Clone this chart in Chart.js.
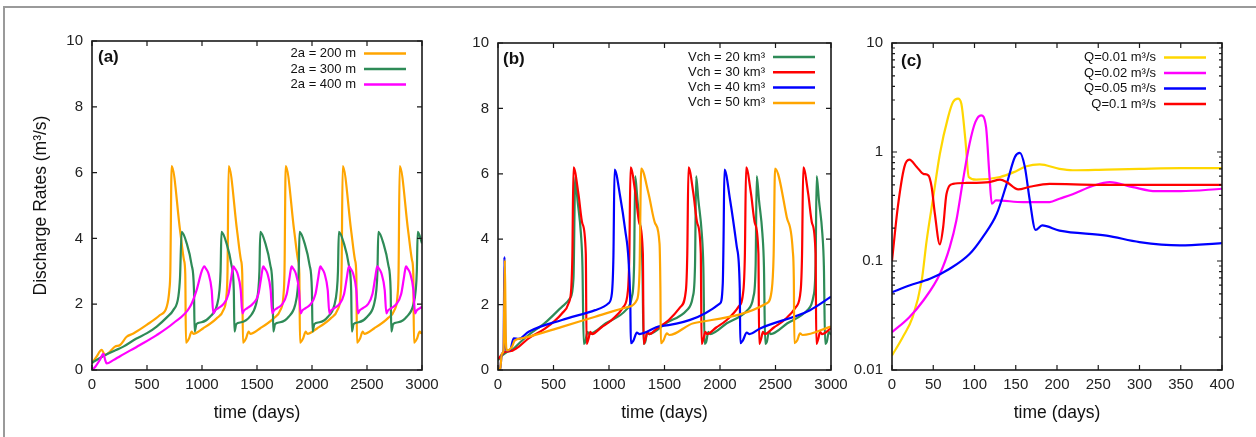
<!DOCTYPE html>
<html>
<head>
<meta charset="utf-8">
<script src="https://cdn.jsdelivr.net/npm/chart.js@4.4.1/dist/chart.umd.min.js"></script>
<style>
  html, body { margin: 0; padding: 0; background: #fff; }
  body { width: 1256px; height: 437px; position: relative; overflow: hidden; }
  #frame { position: absolute; left: 3px; top: 6px; right: 0; bottom: 0; border-top: 2px solid #9a9a9a; border-left: 2px solid #9a9a9a; }
  canvas { position: absolute; top: 8px; }
</style>
</head>
<body>
<div id="frame"></div>
<canvas id="panelA" width="440" height="420" style="left:8px"></canvas>
<canvas id="panelB" width="420" height="420" style="left:440px"></canvas>
<canvas id="panelC" width="416" height="420" style="left:836px"></canvas>
<script>
// ---- panel (a): channel width ----
const aLabels = ["2a = 200 m", "2a = 300 m", "2a = 400 m"];
const aDays200 = [0, 40, 88, 118, 164, 209, 255, 315, 376, 497, 618, 679, 703, 712, 724,
  800, 836, 848, 854, 882, 906, 920, 1012, 1133, 1194, 1222, 1232, 1242,
  1318, 1354, 1366, 1372, 1400, 1424, 1438, 1530, 1651, 1712, 1740, 1750, 1761,
  1837, 1873, 1885, 1891, 1919, 1943, 1957, 2049, 2170, 2231, 2259, 2269, 2279,
  2355, 2391, 2403, 2409, 2437, 2461, 2475, 2567, 2688, 2749, 2777, 2787, 2797,
  2873, 2909, 2921, 2927, 2955, 2979, 2993, 3000];
const aRate200 = [0.2, 0.4, 0.61, 0.46, 0.56, 0.71, 0.76, 1.01, 1.11, 1.37, 1.67, 1.92, 2.43, 3.0, 6.2,
  4.26, 3.34, 2.9, 0.83, 0.96, 1.17, 1.1, 1.27, 1.57, 1.82, 2.25, 3.0, 6.2,
  4.26, 3.34, 2.9, 0.83, 0.96, 1.17, 1.1, 1.27, 1.57, 1.82, 2.25, 3.0, 6.2,
  4.26, 3.34, 2.9, 0.83, 0.96, 1.17, 1.1, 1.27, 1.57, 1.82, 2.25, 3.0, 6.2,
  4.26, 3.34, 2.9, 0.83, 0.96, 1.17, 1.1, 1.27, 1.57, 1.82, 2.25, 3.0, 6.2,
  4.26, 3.34, 2.9, 0.83, 0.96, 1.17, 1.12, 1.15];
const aDays300 = [0, 100, 200, 285, 400, 500, 588, 680, 739, 785, 800, 815,
  861, 906, 927, 933, 950, 995, 1073, 1137, 1159, 1169, 1177,
  1223, 1268, 1289, 1295, 1312, 1357, 1435, 1490, 1512, 1522, 1530,
  1576, 1621, 1642, 1648, 1665, 1710, 1788, 1847, 1869, 1879, 1887,
  1933, 1978, 1999, 2005, 2022, 2067, 2145, 2204, 2226, 2236, 2244,
  2290, 2335, 2356, 2362, 2379, 2424, 2502, 2563, 2585, 2595, 2603,
  2649, 2694, 2715, 2721, 2738, 2783, 2861, 2921, 2943, 2953, 2961,
  3000];
const aRate300 = [0.22, 0.42, 0.58, 0.71, 0.95, 1.12, 1.32, 1.6, 1.82, 2.23, 2.8, 4.2,
  3.85, 3.19, 2.43, 1.17, 1.4, 1.45, 1.62, 1.98, 2.43, 3.0, 4.2,
  3.85, 3.19, 2.43, 1.17, 1.4, 1.45, 1.62, 1.98, 2.43, 3.0, 4.2,
  3.85, 3.19, 2.43, 1.17, 1.4, 1.45, 1.62, 1.98, 2.43, 3.0, 4.2,
  3.85, 3.19, 2.43, 1.17, 1.4, 1.45, 1.62, 1.98, 2.43, 3.0, 4.2,
  3.85, 3.19, 2.43, 1.17, 1.4, 1.45, 1.62, 1.98, 2.43, 3.0, 4.2,
  3.85, 3.19, 2.43, 1.17, 1.4, 1.45, 1.62, 1.98, 2.43, 3.0, 4.2,
  3.85];
const aDays400 = [0, 30, 70, 103, 120, 133, 194, 255, 436, 588, 739, 891, 951, 997, 1021,
  1036, 1058, 1088, 1103, 1116, 1148, 1194, 1240, 1263, 1277, 1285,
  1300, 1322, 1352, 1367, 1380, 1412, 1458, 1512, 1535, 1549, 1557,
  1572, 1594, 1624, 1639, 1652, 1684, 1730, 1770, 1793, 1807, 1815,
  1830, 1852, 1882, 1897, 1910, 1942, 1988, 2031, 2054, 2068, 2076,
  2091, 2113, 2143, 2158, 2171, 2203, 2249, 2291, 2314, 2328, 2336,
  2351, 2373, 2403, 2418, 2431, 2463, 2509, 2549, 2572, 2586, 2594,
  2609, 2631, 2661, 2676, 2689, 2721, 2767, 2810, 2833, 2847, 2855,
  2870, 2892, 2922, 2937, 2950, 2982, 3000];
const aRate400 = [0.0, 0.1, 0.3, 0.49, 0.3, 0.2, 0.3, 0.42, 0.76, 1.06, 1.42, 1.92, 2.43, 3.0, 3.15,
  3.08, 2.94, 2.43, 1.72, 1.8, 1.88, 2.0, 2.3, 2.75, 3.05, 3.15,
  3.08, 2.94, 2.43, 1.72, 1.8, 1.88, 2.0, 2.3, 2.75, 3.05, 3.15,
  3.08, 2.94, 2.43, 1.72, 1.8, 1.88, 2.0, 2.3, 2.75, 3.05, 3.15,
  3.08, 2.94, 2.43, 1.72, 1.8, 1.88, 2.0, 2.3, 2.75, 3.05, 3.15,
  3.08, 2.94, 2.43, 1.72, 1.8, 1.88, 2.0, 2.3, 2.75, 3.05, 3.15,
  3.08, 2.94, 2.43, 1.72, 1.8, 1.88, 2.0, 2.3, 2.75, 3.05, 3.15,
  3.08, 2.94, 2.43, 1.72, 1.8, 1.88, 2.0, 2.3, 2.75, 3.05, 3.15,
  3.08, 2.94, 2.43, 1.72, 1.8, 1.88, 1.92];

// ---- panel (b): chamber volume ----
const bLabels = ["Vch = 20 km³", "Vch = 30 km³", "Vch = 40 km³", "Vch = 50 km³"];
const bDays20 = [0, 40, 80, 130, 200, 276, 426, 576, 650, 680, 696,
  716, 747, 761, 772, 786, 806, 821, 972, 1152, 1206, 1226, 1236,
  1256, 1287, 1301, 1312, 1326, 1346, 1361, 1512, 1701, 1755, 1775, 1785,
  1805, 1836, 1850, 1861, 1875, 1895, 1910, 2061, 2247, 2301, 2321, 2331,
  2351, 2382, 2396, 2407, 2421, 2441, 2456, 2607, 2787, 2841, 2861, 2871,
  2891, 2922, 2936, 2947, 2961, 2981, 2995, 3000];
const bRate20 = [0.3, 0.45, 0.55, 0.62, 0.85, 1.07, 1.45, 1.93, 2.2, 2.8, 5.9,
  5.2, 4.17, 3.16, 0.8, 0.85, 1.17, 1.1, 1.43, 1.83, 2.24, 3.2, 5.93,
  5.2, 4.17, 3.16, 0.8, 0.85, 1.17, 1.1, 1.43, 1.83, 2.24, 3.2, 5.93,
  5.2, 4.17, 3.16, 0.8, 0.85, 1.17, 1.1, 1.43, 1.83, 2.24, 3.2, 5.93,
  5.2, 4.17, 3.16, 0.8, 0.85, 1.17, 1.1, 1.43, 1.83, 2.24, 3.2, 5.93,
  5.2, 4.17, 3.16, 0.8, 0.85, 1.17, 1.1, 1.1];
const bDays30 = [0, 30, 60, 120, 186, 276, 426, 576, 636, 660, 670, 680,
  724, 760, 791, 798, 815, 832, 848, 930, 1025, 1130, 1171, 1183, 1194,
  1238, 1274, 1305, 1312, 1329, 1346, 1362, 1444, 1539, 1644, 1693, 1705, 1716,
  1760, 1796, 1827, 1834, 1851, 1868, 1884, 1966, 2061, 2166, 2211, 2224, 2235,
  2279, 2315, 2346, 2353, 2370, 2387, 2403, 2485, 2580, 2685, 2727, 2739, 2750,
  2794, 2830, 2861, 2868, 2885, 2902, 2918, 3000];
const bRate30 = [0.33, 0.45, 0.55, 0.58, 0.71, 0.97, 1.27, 1.73, 2.04, 2.5, 3.5, 6.2,
  5.4, 4.48, 3.56, 0.8, 0.95, 1.17, 1.1, 1.3, 1.53, 1.93, 2.44, 3.5, 6.2,
  5.4, 4.48, 3.56, 0.8, 0.95, 1.17, 1.1, 1.3, 1.53, 1.93, 2.44, 3.5, 6.2,
  5.4, 4.48, 3.56, 0.8, 0.95, 1.17, 1.1, 1.3, 1.53, 1.93, 2.44, 3.5, 6.2,
  5.4, 4.48, 3.56, 0.8, 0.95, 1.17, 1.1, 1.3, 1.53, 1.93, 2.44, 3.5, 6.2,
  5.4, 4.48, 3.56, 0.8, 0.95, 1.17, 1.1, 1.28];
const bDays40 = [0, 20, 35, 50, 58, 66, 78, 110, 141, 186, 276, 576, 876, 996, 1026, 1040, 1050,
  1101, 1146, 1176, 1192, 1197, 1220, 1251, 1275, 1461, 2001, 2025, 2032, 2040,
  2091, 2151, 2178, 2183, 2205, 2241, 2265, 2361, 2811, 3000];
const bRate40 = [0.0, 0.05, 0.5, 0.6, 3.46, 1.0, 0.6, 0.62, 0.97, 0.95, 1.17, 1.53, 1.83, 2.04, 2.34, 3.5, 6.13,
  5.3, 4.28, 3.36, 2.0, 0.82, 0.9, 1.14, 1.1, 1.34, 2.04, 2.65, 4.0, 6.13,
  5.2, 3.77, 2.5, 0.82, 0.9, 1.14, 1.1, 1.27, 1.83, 2.24];
const bDays50 = [0, 20, 35, 50, 62, 70, 80, 126, 150, 216, 576, 876, 1176, 1251, 1275, 1290,
  1356, 1416, 1455, 1463, 1467, 1490, 1521, 1545, 1761, 2421, 2466, 2483, 2496,
  2601, 2655, 2665, 2670, 2695, 2721, 2745, 2991, 3000];
const bRate50 = [0.0, 0.05, 0.5, 0.6, 3.36, 1.0, 0.6, 0.71, 0.9, 0.97, 1.32, 1.63, 1.93, 2.14, 3.0, 6.16,
  5.4, 4.48, 3.87, 2.5, 0.82, 0.9, 1.12, 1.07, 1.43, 2.04, 2.44, 3.5, 6.16,
  4.68, 3.67, 2.8, 0.82, 0.9, 1.12, 1.07, 1.32, 1.33];

// ---- panel (c): recharge rate, log scale ----
const cLabels = ["Q=0.01 m³/s", "Q=0.02 m³/s", "Q=0.05 m³/s", "Q=0.1 m³/s"];
const cDays001 = [0, 13, 25, 36, 42, 50, 58, 68, 74, 80, 84, 89, 93, 102, 131, 147, 163, 179, 203, 219, 260, 300, 350, 400];
const cRate001 = [0.0136, 0.02, 0.0305, 0.066, 0.154, 0.385, 0.96, 2.09, 2.87, 3.09, 2.78, 1.28, 0.59, 0.557, 0.59, 0.65, 0.74, 0.77, 0.70, 0.68, 0.69, 0.70, 0.71, 0.71];
const cDays002 = [0, 21, 38, 58, 70, 78, 86, 94, 101, 108, 114, 118, 121, 126, 159, 191, 203, 219, 244, 264, 292, 320, 350, 400];
const cRate002 = [0.0222, 0.0305, 0.0434, 0.076, 0.134, 0.235, 0.548, 1.19, 1.88, 2.17, 1.69, 0.63, 0.335, 0.36, 0.347, 0.347, 0.373, 0.41, 0.49, 0.53, 0.476, 0.437, 0.437, 0.46];
const cDays005 = [0, 21, 46, 70, 94, 110, 127, 139, 149, 155, 161, 167, 174, 182, 203, 260, 300, 349, 400];
const cRate005 = [0.0517, 0.0596, 0.0687, 0.085, 0.116, 0.166, 0.271, 0.51, 0.9, 0.98, 0.73, 0.36, 0.193, 0.212, 0.19, 0.171, 0.149, 0.139, 0.146];
const cDays01 = [0, 7, 15, 21, 30, 38, 44, 48, 52, 58, 62, 66, 74, 90, 118, 131, 139, 153, 167, 191, 250, 300, 400];
const cRate01 = [0.1, 0.31, 0.73, 0.85, 0.73, 0.63, 0.61, 0.48, 0.27, 0.142, 0.204, 0.41, 0.51, 0.52, 0.53, 0.557, 0.53, 0.454, 0.48, 0.51, 0.50, 0.50, 0.50];
const cYTicks = [0.01, 0.02, 0.03, 0.04, 0.05, 0.06, 0.07, 0.08, 0.09,
  0.1, 0.2, 0.3, 0.4, 0.5, 0.6, 0.7, 0.8, 0.9,
  1, 2, 3, 4, 5, 6, 7, 8, 9, 10];
const cYLabels = ["0.01", "0.1", "1", "10"];

Chart.defaults.font.family = "'Liberation Sans', Arial, sans-serif";
Chart.defaults.color = "#222";

// gnuplot-like box, inward ticks, panel tag and right-justified key
const gnuFrame = {
  id: "gnuFrame",
  afterDraw(chart, args, opts) {
    const { ctx, chartArea: area, scales } = chart;
    ctx.save();
    ctx.strokeStyle = "#1a1a1a";
    ctx.lineWidth = 1.2;
    ctx.beginPath();
    scales.x.ticks.forEach((t) => {
      const px = scales.x.getPixelForValue(t.value);
      ctx.moveTo(px, area.bottom); ctx.lineTo(px, area.bottom - 5);
      ctx.moveTo(px, area.top); ctx.lineTo(px, area.top + 5);
    });
    scales.y.ticks.forEach((t) => {
      const py = scales.y.getPixelForValue(t.value);
      const len = t.label === "" ? 3 : 5;
      ctx.moveTo(area.left, py); ctx.lineTo(area.left + len, py);
      ctx.moveTo(area.right, py); ctx.lineTo(area.right - len, py);
    });
    ctx.stroke();
    ctx.lineWidth = 1.6;
    ctx.strokeRect(area.left, area.top, area.right - area.left, area.bottom - area.top);

    ctx.fillStyle = "#111";
    ctx.textBaseline = "middle";
    ctx.font = "bold 17px 'Liberation Sans', Arial, sans-serif";
    ctx.fillText(opts.tag, area.left + opts.tagX, area.top + opts.tagY);

    ctx.font = "13px 'Liberation Sans', Arial, sans-serif";
    ctx.textAlign = "right";
    chart.data.datasets.forEach((ds, i) => {
      const y = area.top + opts.keyTop + i * opts.keyStep;
      ctx.fillStyle = "#111";
      ctx.fillText(ds.label, area.right - 66, y);
      ctx.strokeStyle = ds.borderColor;
      ctx.lineWidth = 2.5;
      ctx.beginPath();
      ctx.moveTo(area.right - 58, y);
      ctx.lineTo(area.right - 16, y);
      ctx.stroke();
    });
    ctx.restore();
  }
};

function series(labels, colors, dayLists, rateLists) {
  return labels.map((label, i) => ({
    label,
    data: dayLists[i].map((d, j) => ({ x: d, y: rateLists[i][j] })),
    borderColor: colors[i],
    borderWidth: 2.2,
    pointRadius: 0,
    fill: false,
    cubicInterpolationMode: "monotone",
    order: labels.length - i
  }));
}

function panel(id, datasets, opt) {
  return new Chart(document.getElementById(id), {
    type: "line",
    data: { datasets },
    plugins: [gnuFrame],
    options: {
      responsive: false,
      animation: false,
      layout: { padding: { top: opt.padTop, right: opt.padRight, left: 0, bottom: 0 } },
      plugins: {
        legend: { display: false },
        tooltip: { enabled: false },
        gnuFrame: opt.frame
      },
      scales: {
        x: {
          type: "linear",
          min: 0,
          max: opt.xMax,
          grid: { display: false, drawTicks: false },
          border: { display: false },
          ticks: {
            stepSize: opt.xStep, font: { size: 15 }, padding: 6, maxRotation: 0, autoSkip: false, color: "#222",
            callback: (v) => String(v)
          },
          title: { display: true, text: "time (days)", font: { size: 17.5 }, padding: { top: 0, bottom: 4 }, color: "#111" },
          afterFit: (s) => { s.height = 58; }
        },
        y: opt.y
      }
    }
  });
}

const yLinear = (width, showTitle) => ({
  type: "linear",
  min: 0,
  max: 10,
  grid: { display: false, drawTicks: false },
  border: { display: false },
  ticks: { stepSize: 2, font: { size: 15 }, padding: 9, color: "#222", callback: (v) => String(v) },
  title: { display: showTitle, text: "Discharge Rates (m³/s)", font: { size: 17.5 }, padding: { top: 23, bottom: 0 }, color: "#111" },
  afterFit: (s) => { s.width = width; }
});

panel("panelA",
  series(aLabels, ["#FFA500", "#2E8B57", "#FF00FF"],
    [aDays200, aDays300, aDays400], [aRate200, aRate300, aRate400]),
  { padTop: 33, padRight: 26, xMax: 3000, xStep: 500, y: yLinear(84, true),
    frame: { tag: "(a)", tagX: 6, tagY: 16.5, keyTop: 12.5, keyStep: 15.5 } });

panel("panelB",
  series(bLabels, ["#2E8B57", "#FF0000", "#0000FF", "#FFA500"],
    [bDays20, bDays30, bDays40, bDays50], [bRate20, bRate30, bRate40, bRate50]),
  { padTop: 35, padRight: 29, xMax: 3000, xStep: 500, y: yLinear(58, false),
    frame: { tag: "(b)", tagX: 5, tagY: 16, keyTop: 14, keyStep: 15.3 } });

panel("panelC",
  series(cLabels, ["#FFD700", "#FF00FF", "#0000FF", "#FF0000"],
    [cDays001, cDays002, cDays005, cDays01], [cRate001, cRate002, cRate005, cRate01]),
  { padTop: 35, padRight: 30, xMax: 400, xStep: 50,
    y: {
      type: "logarithmic",
      min: 0.01,
      max: 10,
      grid: { display: false, drawTicks: false },
      border: { display: false },
      afterBuildTicks: (s) => { s.ticks = cYTicks.map((v) => ({ value: v })); },
      ticks: {
        font: { size: 15 }, padding: 9, autoSkip: false, color: "#222",
        callback: (v) => cYLabels.find((s) => Number(s) === v) || ""
      },
      afterFit: (s) => { s.width = 56; }
    },
    frame: { tag: "(c)", tagX: 9, tagY: 18, keyTop: 14.5, keyStep: 15.5 } });
</script>
</body>
</html>
